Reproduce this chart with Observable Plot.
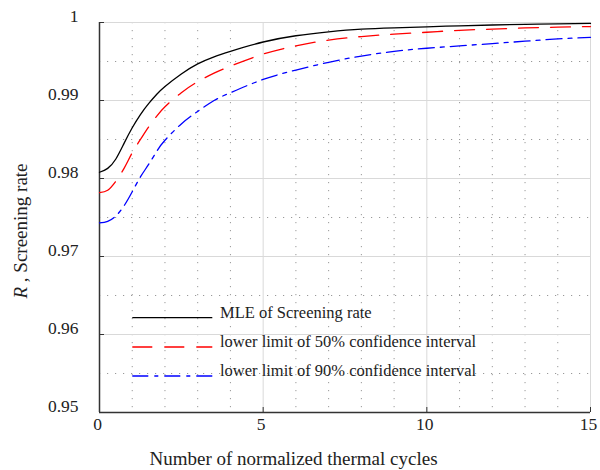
<!DOCTYPE html>
<html><head><meta charset="utf-8">
<script src="https://cdn.jsdelivr.net/npm/d3@7"></script>
<script src="https://cdn.jsdelivr.net/npm/@observablehq/plot@0.6"></script>
<style>body{margin:0;background:#fff} svg{display:block}</style>
</head><body><div id="chart"></div>
<script>
// ---- data ----
const xValues    = [0, 0.25, 0.5, 0.75, 1.0, 1.25, 1.5, 1.75, 2.0, 2.5, 3.0, 3.5, 4.0, 5, 6, 7, 8, 9, 10, 11, 12, 13, 14, 15];
const mleValues  = [0.9808, 0.9813, 0.9825, 0.9845, 0.9865, 0.9882, 0.9896, 0.9908, 0.9918, 0.9934, 0.9947, 0.9956, 0.9963, 0.9975, 0.9983, 0.9988, 0.99915, 0.99932, 0.99945, 0.99958, 0.99968, 0.99976, 0.99983, 0.99988];
const ci50Values = [0.9782, 0.9785, 0.97965, 0.9813, 0.9833, 0.9850, 0.9866, 0.9880, 0.9892, 0.9910, 0.9924, 0.9935, 0.9944, 0.99595, 0.9970, 0.99775, 0.9982, 0.9985, 0.99875, 0.9990, 0.99915, 0.9993, 0.9994, 0.99948];
const ci90Values = [0.9743, 0.9745, 0.9752, 0.9765, 0.9783, 0.9802, 0.9818, 0.9835, 0.9849, 0.9870, 0.9886, 0.9900, 0.9910, 0.9927, 0.9939, 0.9949, 0.9957, 0.9963, 0.9967, 0.9970, 0.9973, 0.9976, 0.9979, 0.9981];
const seriesNames = ["MLE of Screening rate", "lower limit of 50% confidence interval", "lower limit of 90% confidence interval"];
const xTicks = [0, 5, 10, 15];
const xTickLabels = ["0", "5", "10", "15"];
const yTicks = [0.95, 0.96, 0.97, 0.98, 0.99, 1];
const yTickLabels = ["0.95", "0.96", "0.97", "0.98", "0.99", "1"];
const xMinorTicks = [1, 2, 3, 4, 6, 7, 8, 9, 11, 12, 13, 14];
const yMinorTicks = [0.955, 0.965, 0.975, 0.985, 0.995];
const xLabel = "Number of normalized thermal cycles";
const yLabelVar = "R";
const yLabelText = " , Screening rate";

// ---- styles ----
const seriesStyles = [
  {stroke: "#000000", dash: null},
  {stroke: "#ff0000", dash: "20,12"},
  {stroke: "#0000ff", dash: "16,6,4,6"}
];
const seriesValues = [mleValues, ci50Values, ci90Values];
const rows = seriesNames.flatMap((name, k) => xValues.map((x, i) => ({x, y: seriesValues[k][i], name})));

const font = "'Liberation Serif', 'Times New Roman', Times, serif";
const ink = "#222";
const W = 600, H = 470, mL = 99, mR = 10, mT = 22, mB = 58;

const plot = Plot.plot({
  width: W, height: H,
  marginLeft: mL, marginRight: mR, marginTop: mT, marginBottom: mB,
  x: {domain: [0, 15], label: null, axis: null},
  y: {domain: [0.95, 1], label: null, axis: null},
  style: {fontFamily: font, background: "#fff", color: ink},
  marks: [
    Plot.gridX({ticks: xMinorTicks, stroke: "#999", strokeOpacity: 1, strokeDasharray: "1.2,6.8"}),
    Plot.gridY({ticks: yMinorTicks, stroke: "#999", strokeOpacity: 1, strokeDasharray: "1.2,6.8"}),
    Plot.gridX({ticks: xTicks, stroke: "#d9d9d9", strokeOpacity: 1}),
    Plot.gridY({ticks: yTicks, stroke: "#d9d9d9", strokeOpacity: 1}),
    // inward tick marks
    Plot.tickY(yTicks, {y: d => d, stroke: "#333", strokeWidth: 1, insetRight: (W - mL - mR) - 5}),
    Plot.tickX(xTicks, {x: d => d, stroke: "#333", strokeWidth: 1, insetTop: (H - mT - mB) - 5}),
    // tick labels
    Plot.text(yTicks, {y: d => d, text: (d, i) => yTickLabels[i], frameAnchor: "left", textAnchor: "end",
      dx: -21, dy: -6, fontSize: 17.5, fill: ink}),
    Plot.text(xTicks, {x: d => d, text: (d, i) => xTickLabels[i], frameAnchor: "bottom",
      dx: -2, dy: 17.6, fontSize: 17.5, fill: ink}),
    Plot.ruleX([0], {stroke: "#333", strokeWidth: 1.5}),
    Plot.ruleY([0.95], {stroke: "#333", strokeWidth: 1.5}),
    ...seriesNames.map((name, k) => Plot.line(rows.filter(r => r.name === name), {
      x: "x", y: "y", stroke: seriesStyles[k].stroke, strokeWidth: 1.3,
      strokeDasharray: seriesStyles[k].dash, curve: "natural"
    }))
  ]
});

const svg = d3.select(plot);
// legend
const legendY = [317.7, 347, 376];
const lg = svg.append("g").attr("font-family", font).attr("font-size", 16.5).attr("fill", ink).attr("text-anchor", "start");
seriesNames.forEach((name, k) => {
  lg.append("line").attr("x1", 132.3).attr("x2", 212.3).attr("y1", legendY[k]).attr("y2", legendY[k])
    .attr("stroke", seriesStyles[k].stroke).attr("stroke-width", 1.3)
    .attr("stroke-dasharray", seriesStyles[k].dash);
  lg.append("text").attr("x", 220).attr("y", legendY[k]).attr("text-anchor", "start").text(name);
});
// x label
svg.append("text").attr("x", 293.5).attr("y", 465).attr("text-anchor", "middle")
  .attr("font-family", font).attr("font-size", 19).attr("fill", ink).text(xLabel);
// y label
const yl = svg.append("text").attr("transform", "translate(27,231) rotate(-90)").attr("text-anchor", "middle")
  .attr("font-family", font).attr("font-size", 19).attr("fill", ink);
yl.append("tspan").attr("font-style", "italic").text(yLabelVar);
yl.append("tspan").text(yLabelText);

document.getElementById("chart").appendChild(plot);
</script>
</body></html>
